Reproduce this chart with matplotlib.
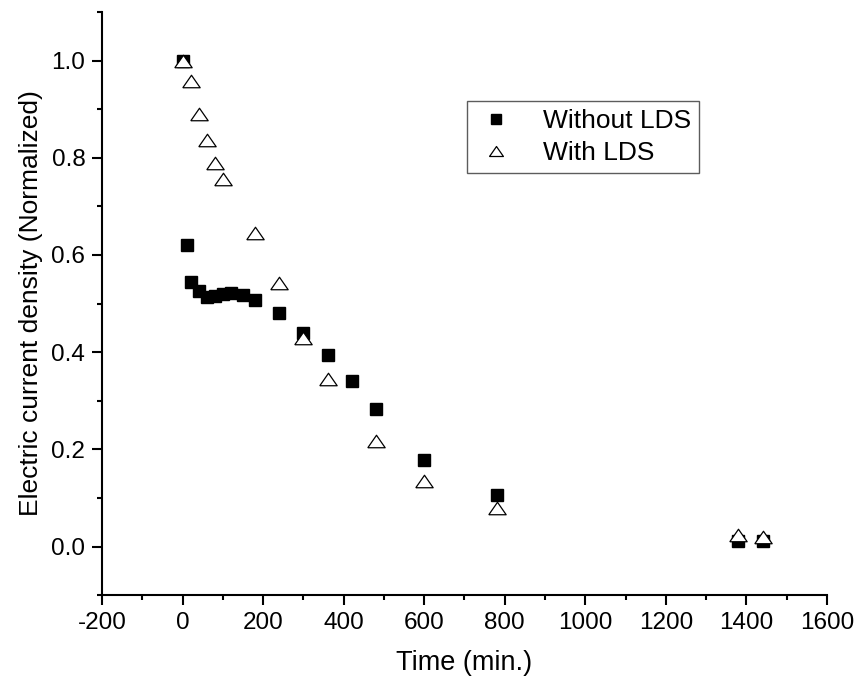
import matplotlib
matplotlib.use("Agg")
import matplotlib.pyplot as plt
from matplotlib.ticker import MultipleLocator, FormatStrFormatter

plt.rcParams['font.family'] = ['Liberation Sans', 'DejaVu Sans']
plt.rcParams['axes.unicode_minus'] = False

# data
t_without = [0, 10, 20, 40, 60, 80, 100, 120, 150, 180, 240, 300, 360, 420, 480, 600, 780, 1380, 1440]
j_without = [1.0, 0.62, 0.545, 0.525, 0.513, 0.515, 0.52, 0.522, 0.517, 0.508, 0.48, 0.44, 0.395,
             0.341, 0.283, 0.178, 0.107, 0.012, 0.012]

t_with = [0, 20, 40, 60, 80, 100, 180, 240, 300, 360, 480, 600, 780, 1380, 1440]
j_with = [1.0, 0.958, 0.89, 0.836, 0.789, 0.757, 0.645, 0.543, 0.43, 0.344, 0.217, 0.134, 0.08,
          0.023, 0.02]

# flattened open triangle like the original
tri = [(-1, -0.72), (1, -0.72), (0, 0.72), (-1, -0.72)]

fig = plt.figure(figsize=(8.57, 6.88), dpi=100)
ax = fig.add_axes([0.119, 0.135, 0.846, 0.8476])

ax.plot(t_without, j_without, linestyle='none', marker='s', markersize=8.6,
        color='black', label='Without LDS')
ax.plot(t_with, j_with, linestyle='none', marker=tri, markersize=12.5,
        markerfacecolor='white', markeredgecolor='black', markeredgewidth=0.9,
        label='With LDS')

ax.set_xlim(-200, 1600)
ax.set_ylim(-0.1, 1.1)
ax.xaxis.set_major_locator(MultipleLocator(200))
ax.xaxis.set_minor_locator(MultipleLocator(100))
ax.set_yticks([0.0, 0.2, 0.4, 0.6, 0.8, 1.0])
ax.set_yticks([-0.1, 0.1, 0.3, 0.5, 0.7, 0.9, 1.1], minor=True)
ax.yaxis.set_major_formatter(FormatStrFormatter('%.1f'))

for s in ['top', 'right']:
    ax.spines[s].set_visible(False)
for s in ['left', 'bottom']:
    ax.spines[s].set_linewidth(1.5)

ax.tick_params(which='major', direction='out', length=7, width=1.5, labelsize=17.5, pad=5)
ax.tick_params(which='minor', direction='out', length=3.5, width=1.5)

ax.set_xlabel('Time (min.)', fontsize=19.5, labelpad=12)
ax.set_ylabel('Electric current density (Normalized)', fontsize=19, labelpad=6)

leg = ax.legend(loc='upper left', bbox_to_anchor=(0.503, 0.847), fontsize=19,
                frameon=True, fancybox=False, edgecolor='#333333', markerscale=0.8,
                handlelength=1.6, handletextpad=1.0, borderpad=0.3, labelspacing=0.3,
                borderaxespad=0)
leg.get_frame().set_linewidth(1.0)

plt.savefig('out.png', dpi=100)
